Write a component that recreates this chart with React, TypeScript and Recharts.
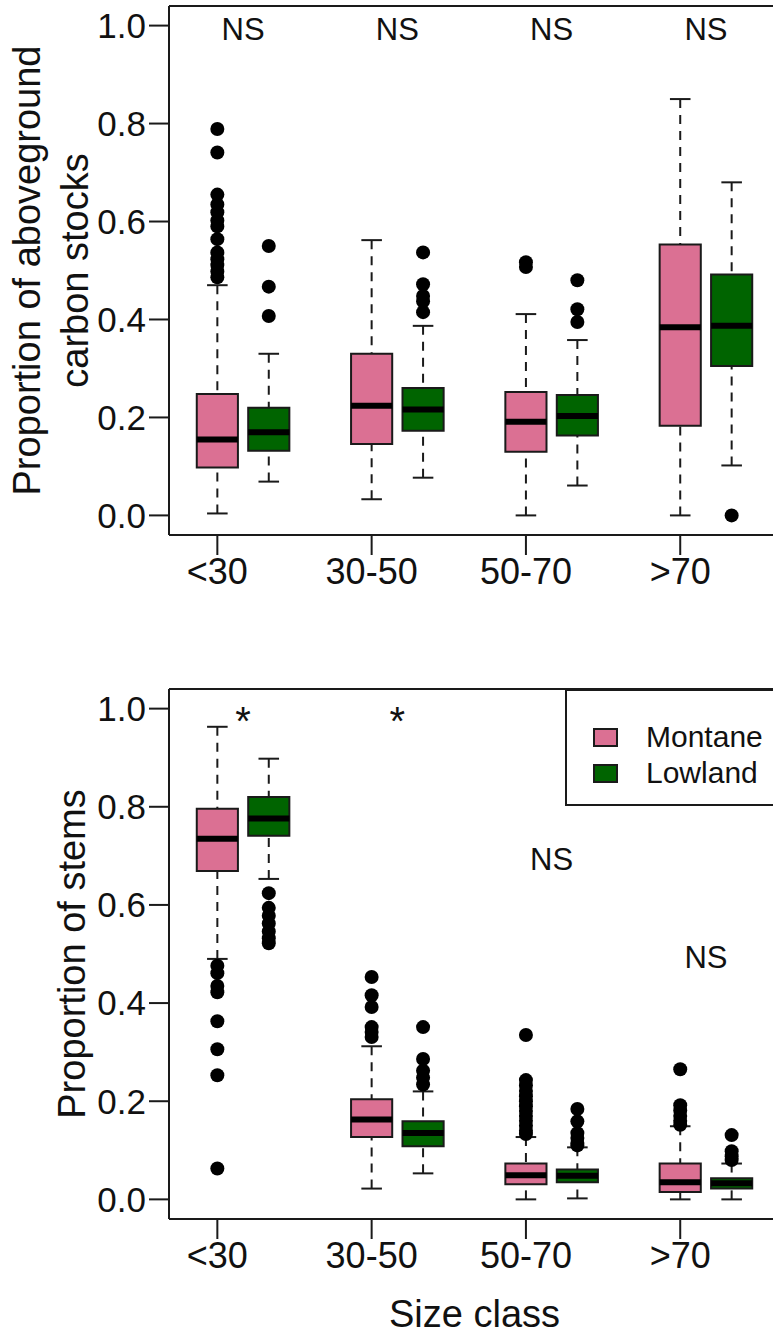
import { ComposedChart, XAxis, YAxis, Scatter, ReferenceArea, ReferenceLine, Legend } from 'recharts'

const sizeClasses = ['<30', '30-50', '50-70', '>70']
const montaneAt = [1, 4, 7, 10]
const lowlandAt = [2, 5, 8, 11]
const yTicks = [0, 0.2, 0.4, 0.6, 0.8, 1.0]
const groups = ['Montane', 'Lowland']

// box stats per size class: [lower whisker, Q1, median, Q3, upper whisker]
const carbonMontane = [
  [0.004, 0.098, 0.155, 0.248, 0.47],
  [0.033, 0.146, 0.224, 0.33, 0.562],
  [0.0, 0.13, 0.191, 0.252, 0.411],
  [0.0, 0.183, 0.384, 0.553, 0.85],
]
const carbonLowland = [
  [0.069, 0.132, 0.17, 0.22, 0.33],
  [0.077, 0.173, 0.216, 0.26, 0.387],
  [0.061, 0.163, 0.203, 0.246, 0.358],
  [0.102, 0.305, 0.387, 0.492, 0.68],
]
const carbonMontaneOut = [
  [0.789, 0.741, 0.655, 0.635, 0.619, 0.602, 0.59, 0.564, 0.537, 0.523, 0.511, 0.498, 0.486],
  [],
  [0.517, 0.507],
  [],
]
const carbonLowlandOut = [
  [0.55, 0.467, 0.407],
  [0.537, 0.472, 0.448, 0.437, 0.415],
  [0.48, 0.421, 0.395],
  [0.0],
]
const carbonTests = ['NS', 'NS', 'NS', 'NS']
const carbonTestY = [1, 1, 1, 1]

const stemsMontane = [
  [0.49, 0.669, 0.735, 0.796, 0.963],
  [0.022, 0.127, 0.163, 0.204, 0.312],
  [0.0, 0.031, 0.049, 0.073, 0.127],
  [0.0, 0.015, 0.035, 0.073, 0.149],
]
const stemsLowland = [
  [0.653, 0.741, 0.776, 0.82, 0.898],
  [0.053, 0.108, 0.135, 0.159, 0.22],
  [0.002, 0.035, 0.048, 0.061, 0.106],
  [0.0, 0.022, 0.033, 0.043, 0.073],
]
const stemsMontaneOut = [
  [0.476, 0.461, 0.435, 0.422, 0.363, 0.306, 0.253, 0.063],
  [0.453, 0.416, 0.392, 0.351, 0.341, 0.331],
  [0.335, 0.243, 0.232, 0.221, 0.21, 0.2, 0.19, 0.18, 0.17, 0.16, 0.15, 0.14, 0.133],
  [0.265, 0.192, 0.181, 0.17, 0.16, 0.152],
]
const stemsLowlandOut = [
  [0.624, 0.594, 0.578, 0.562, 0.546, 0.532, 0.522],
  [0.351, 0.286, 0.262, 0.248, 0.234],
  [0.184, 0.159, 0.135, 0.125, 0.115, 0.11],
  [0.131, 0.098, 0.088, 0.08],
]
const stemsTests = ['*', '*', 'NS', 'NS']
const stemsTestY = [1, 1, 0.7, 0.5]

const X_MIN = 0.06
const X_MAX = 11.94
const Y_MIN = -0.04
const Y_MAX = 1.04

const FONT = '"Liberation Sans", Arial, Helvetica, sans-serif'
const INK = '#1a1a1a'
const MONTANE = '#db7093'
const LOWLAND = '#006400'
const colors = [MONTANE, LOWLAND]

const outlierPoints = (out: number[][], at: number[]) =>
  out.flatMap((vals, i) => vals.map((v) => ({ x: at[i], y: v })))

const testPoints = (labels: string[], ys: number[]) =>
  labels.map((label, i) => ({ x: (montaneAt[i] + lowlandAt[i]) / 2, y: ys[i], label }))

function boxes(stats: number[][], at: number[], fill: string, key: string) {
  return stats.flatMap(([lo, q1, med, q3, hi], i) => {
    const x = at[i]
    const k = `${key}-${i}`
    return [
      <ReferenceLine key={`${k}-wu`} segment={[{ x, y: hi }, { x, y: q3 }]} stroke={INK} strokeWidth={2} strokeDasharray="9 7" />,
      <ReferenceLine key={`${k}-wl`} segment={[{ x, y: lo }, { x, y: q1 }]} stroke={INK} strokeWidth={2} strokeDasharray="9 7" />,
      <ReferenceLine key={`${k}-cu`} segment={[{ x: x - 0.2, y: hi }, { x: x + 0.2, y: hi }]} stroke={INK} strokeWidth={2} />,
      <ReferenceLine key={`${k}-cl`} segment={[{ x: x - 0.2, y: lo }, { x: x + 0.2, y: lo }]} stroke={INK} strokeWidth={2} />,
      <ReferenceArea key={`${k}-box`} x1={x - 0.4} x2={x + 0.4} y1={q1} y2={q3} fill={fill} fillOpacity={1} stroke={INK} strokeWidth={2} />,
      <ReferenceLine key={`${k}-med`} segment={[{ x: x - 0.4, y: med }, { x: x + 0.4, y: med }]} stroke="#000" strokeWidth={6} />,
    ]
  })
}

// plot frame; the right side falls past the page edge
const frame = () =>
  [
    [{ x: X_MIN, y: Y_MAX }, { x: X_MAX, y: Y_MAX }],
    [{ x: X_MIN, y: Y_MIN }, { x: X_MAX, y: Y_MIN }],
    [{ x: X_MIN, y: Y_MIN }, { x: X_MIN, y: Y_MAX }],
  ].map((seg, i) => <ReferenceLine key={`frame-${i}`} segment={seg} stroke={INK} strokeWidth={2} />)

const Dot = (p: any) => <circle cx={p.cx} cy={p.cy} r={7} fill="#000" />

const TestLabel = (p: any) => {
  const star = p.payload.label === '*'
  return (
    <text x={p.cx} y={p.cy + (star ? 26 : 14)} textAnchor="middle" fontSize={star ? 40 : 31} fontFamily={FONT} fill="#111">
      {p.payload.label}
    </text>
  )
}

const YTitle = ({ viewBox, lines, baselines }: any) => {
  const cy = viewBox.y + viewBox.height / 2
  return (
    <g>
      {lines.map((t: string, i: number) => {
        const x = viewBox.x + baselines[i]
        return (
          <text key={t} x={x} y={cy} transform={`rotate(-90, ${x}, ${cy})`} textAnchor="middle" fontSize={38} fontFamily={FONT} fill="#111">
            {t}
          </text>
        )
      })}
    </g>
  )
}

const XTitle = ({ viewBox }: any) => (
  <text x={viewBox.x + viewBox.width / 2} y={viewBox.y + viewBox.height - 8} textAnchor="middle" fontSize={38} fontFamily={FONT} fill="#111">
    Size class
  </text>
)

const LegendBox = () => (
  <div style={{ width: 215, height: 117, boxSizing: 'border-box', border: `2px solid ${INK}`, background: '#fff', paddingTop: 28, fontFamily: FONT }}>
    {groups.map((g, i) => (
      <div key={g} style={{ display: 'flex', alignItems: 'center', height: 36, marginLeft: 26 }}>
        <span style={{ width: 25, height: 19, boxSizing: 'border-box', border: `2px solid ${INK}`, background: colors[i], marginRight: 28 }} />
        <span style={{ fontSize: 30, color: '#111' }}>{g}</span>
      </div>
    ))}
  </div>
)

function Panel({ height, top, xHeight, mont, low, montOut, lowOut, tests, testY, title, baselines, xTitle, legend }: any) {
  return (
    <ComposedChart width={773} height={height} margin={{ top, right: -7, bottom: 0, left: 0 }}>
      <XAxis
        dataKey="x"
        type="number"
        domain={[X_MIN, X_MAX]}
        allowDataOverflow
        ticks={montaneAt}
        interval={0}
        tickFormatter={(v: number) => sizeClasses[montaneAt.indexOf(v)]}
        height={xHeight}
        axisLine={false}
        tickSize={20}
        tickMargin={3}
        tickLine={{ stroke: INK, strokeWidth: 2 }}
        tick={{ fontSize: 36, fill: '#111', fontFamily: FONT }}
        label={xTitle ? <XTitle /> : undefined}
      />
      <YAxis
        dataKey="y"
        type="number"
        domain={[Y_MIN, Y_MAX]}
        allowDataOverflow
        ticks={yTicks}
        interval={0}
        tickFormatter={(v: number) => v.toFixed(1)}
        width={169}
        axisLine={false}
        tickSize={20}
        tickMargin={3}
        tickLine={{ stroke: INK, strokeWidth: 2 }}
        tick={{ fontSize: 35, fill: '#111', fontFamily: FONT }}
        label={<YTitle lines={title} baselines={baselines} />}
      />
      {frame()}
      {boxes(mont, montaneAt, MONTANE, 'm')}
      {boxes(low, lowlandAt, LOWLAND, 'l')}
      <Scatter name="Montane" data={outlierPoints(montOut, montaneAt)} fill="#000" shape={Dot} isAnimationActive={false} />
      <Scatter name="Lowland" data={outlierPoints(lowOut, lowlandAt)} fill="#000" shape={Dot} isAnimationActive={false} />
      <Scatter data={testPoints(tests, testY)} shape={TestLabel} isAnimationActive={false} />
      {legend && (
        <Legend
          layout="vertical"
          align="center"
          verticalAlign="middle"
          wrapperStyle={{ left: 565, top, width: 215 }}
          content={() => <LegendBox />}
        />
      )}
    </ComposedChart>
  )
}

export default function App() {
  return (
    <div style={{ position: 'absolute', left: 0, top: 0, width: 773, height: 1335, overflow: 'hidden', background: '#fff' }}>
      <div style={{ position: 'absolute', left: 0, top: 0 }}>
        <Panel
          height={625}
          top={6}
          xHeight={90}
          mont={carbonMontane}
          low={carbonLowland}
          montOut={carbonMontaneOut}
          lowOut={carbonLowlandOut}
          tests={carbonTests}
          testY={carbonTestY}
          title={['Proportion of aboveground', 'carbon stocks']}
          baselines={[40, 88]}
        />
      </div>
      <div style={{ position: 'absolute', left: 0, top: 640 }}>
        <Panel
          height={695}
          top={49}
          xHeight={116}
          mont={stemsMontane}
          low={stemsLowland}
          montOut={stemsMontaneOut}
          lowOut={stemsLowlandOut}
          tests={stemsTests}
          testY={stemsTestY}
          title={['Proportion of stems']}
          baselines={[85]}
          xTitle
          legend
        />
      </div>
    </div>
  )
}
